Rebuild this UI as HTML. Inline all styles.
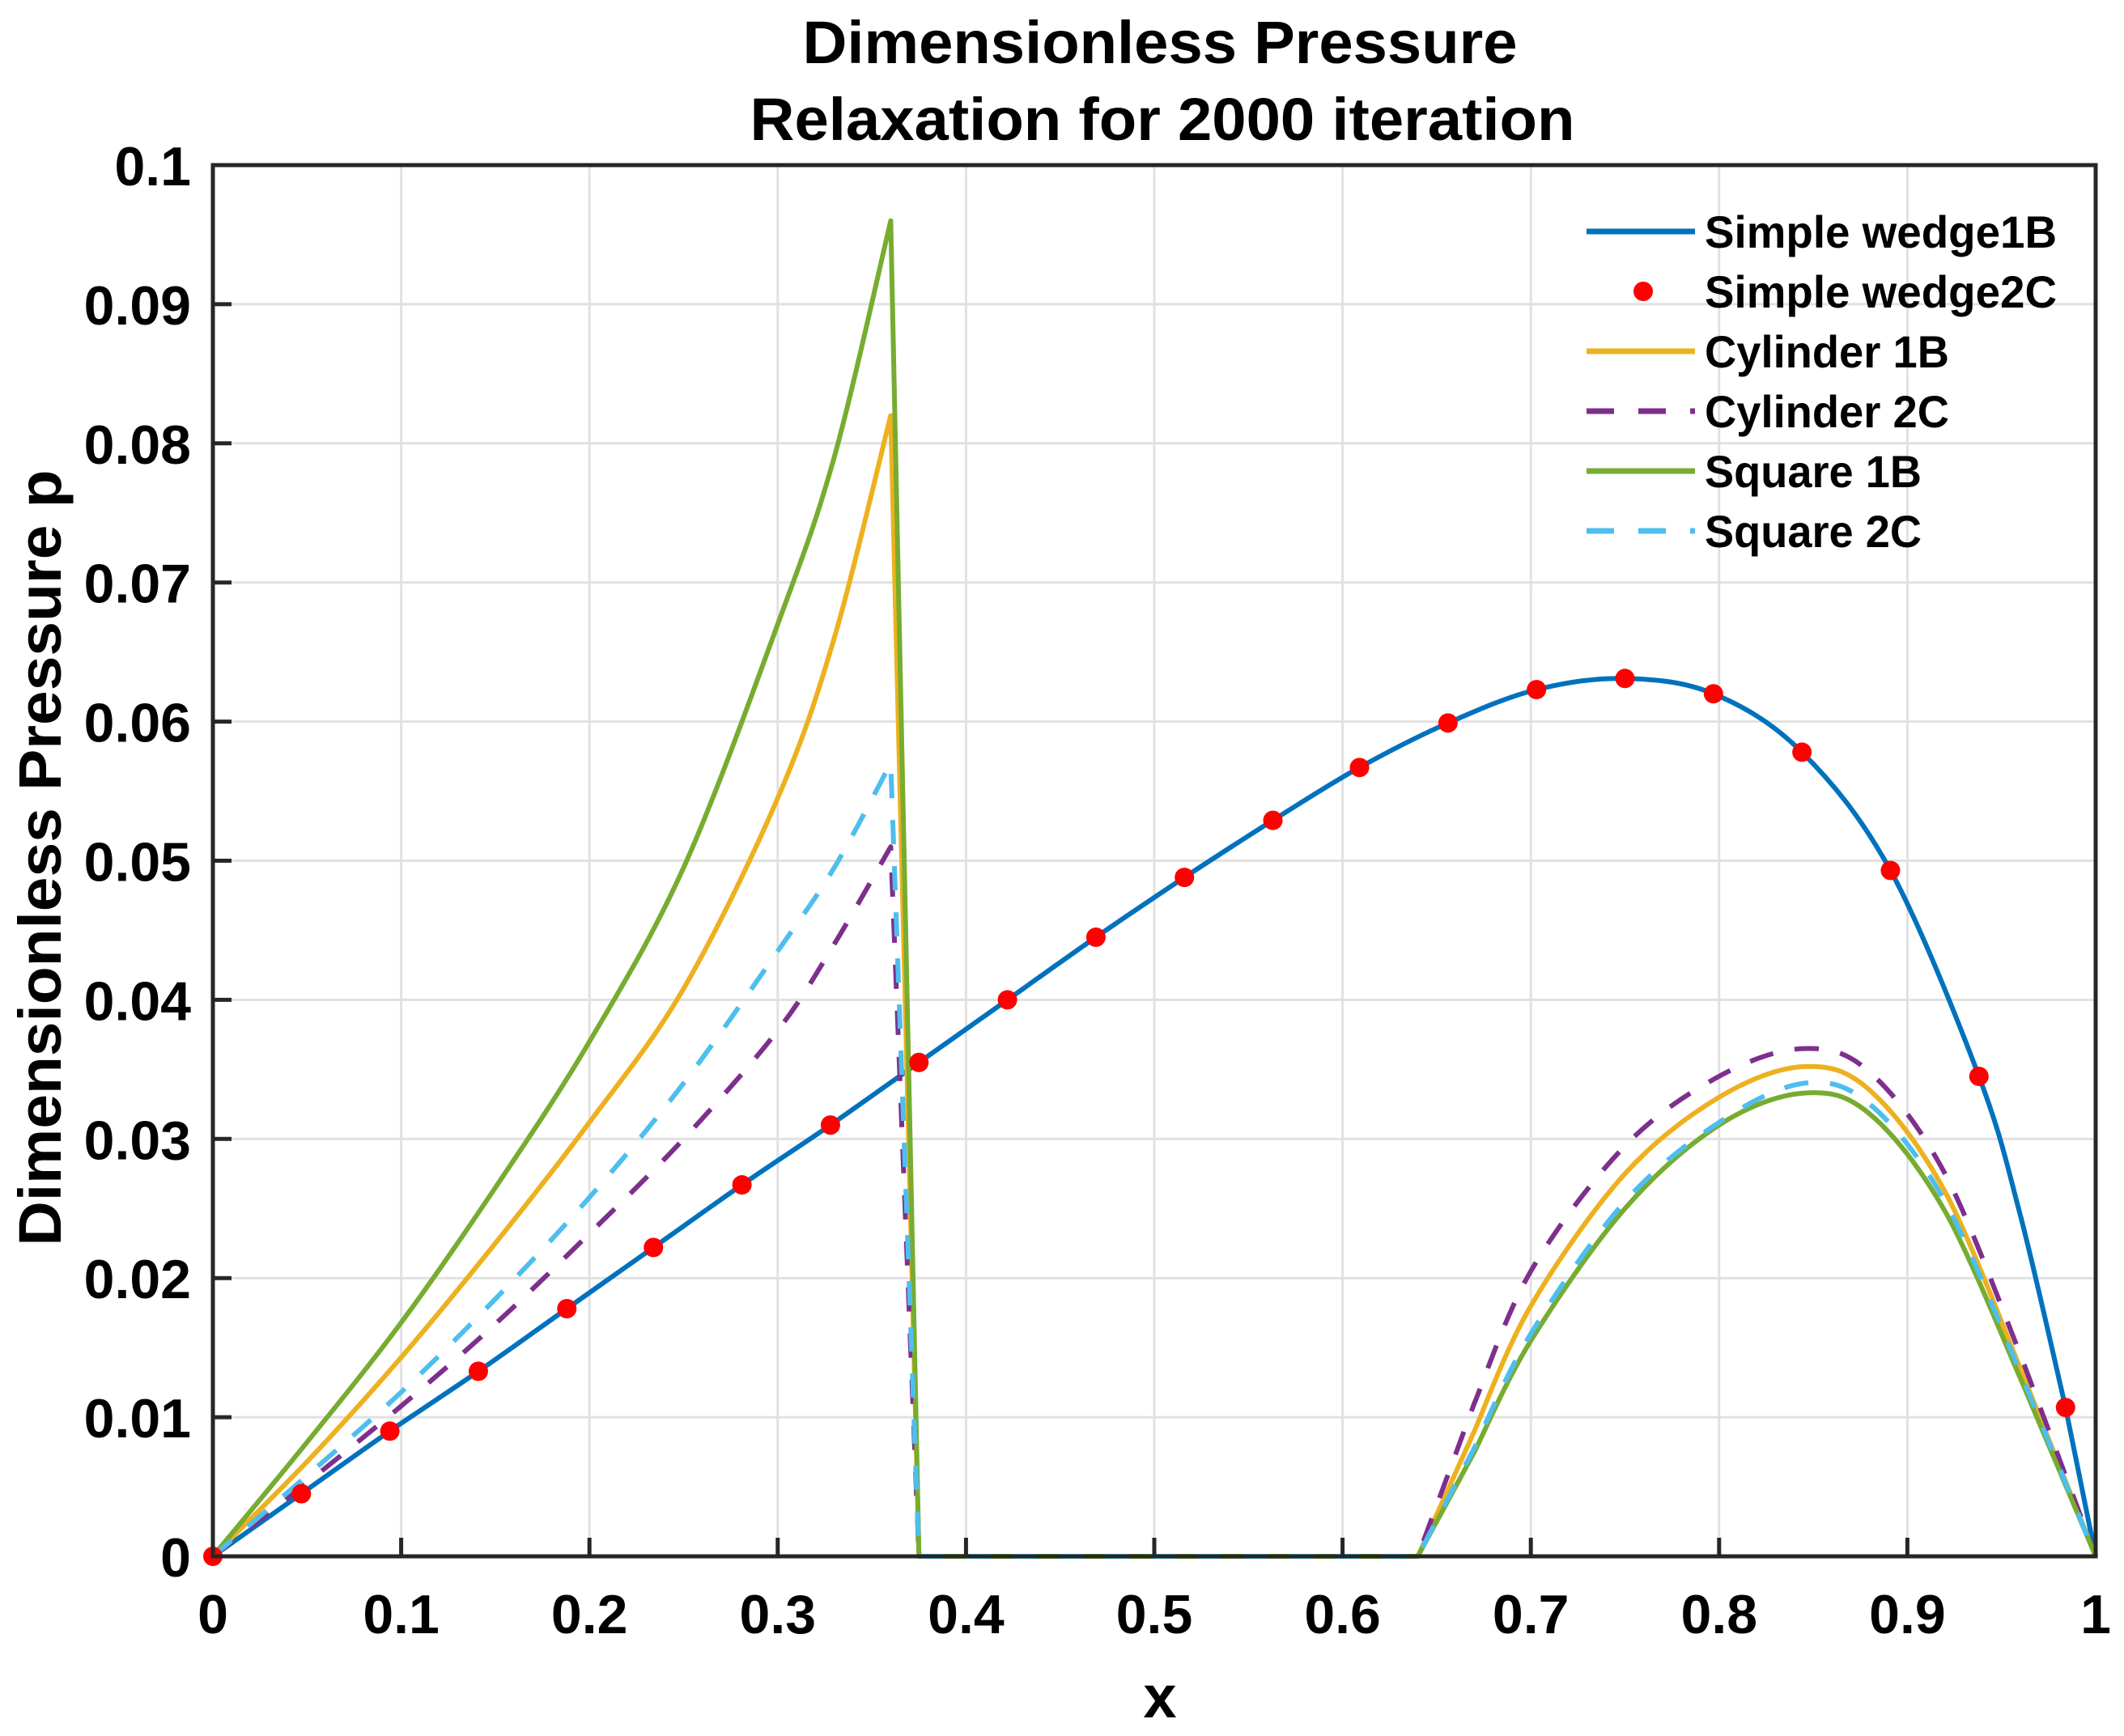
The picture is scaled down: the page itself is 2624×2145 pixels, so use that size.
<!DOCTYPE html>
<html><head><meta charset="utf-8"><style>html,body{margin:0;padding:0;background:#fff}svg{display:block}text{font-family:"Liberation Sans",Arial,sans-serif;font-weight:bold;fill:#000}</style></head>
<body>
<svg id="chart" width="2624" height="2145" viewBox="0 0 2624 2145" xmlns="http://www.w3.org/2000/svg">
<rect width="2624" height="2145" fill="#fff"/>
<g id="grid"></g>
<g id="series"></g>
<rect x="263" y="204" width="2326" height="1719" fill="none" stroke="#262626" stroke-width="5"/>
<g id="ticks"></g>
<text x="1433" y="78" text-anchor="middle" font-size="74" textLength="883" lengthAdjust="spacingAndGlyphs">Dimensionless Pressure</text>
<text x="1436" y="173" text-anchor="middle" font-size="74" textLength="1019" lengthAdjust="spacingAndGlyphs">Relaxation for 2000 iteration</text>
<text x="1433" y="2122" text-anchor="middle" font-size="74">x</text>
<text transform="translate(75,1060) rotate(-90)" text-anchor="middle" font-size="74" textLength="959" lengthAdjust="spacingAndGlyphs">Dimensionless Pressure p</text>
<g id="legend"></g>
</svg>
<script>
const xTicks=[0,0.1,0.2,0.3,0.4,0.5,0.6,0.7,0.8,0.9,1];
const xTickLabels=["0","0.1","0.2","0.3","0.4","0.5","0.6","0.7","0.8","0.9","1"];
const yTicks=[0,0.01,0.02,0.03,0.04,0.05,0.06,0.07,0.08,0.09,0.1];
const yTickLabels=["0","0.01","0.02","0.03","0.04","0.05","0.06","0.07","0.08","0.09","0.1"];

const wedgeX=[0,0.047,0.094,0.141,0.188,0.234,0.281,0.328,0.375,0.422,0.469,0.516,0.563,0.609,0.656,0.703,0.75,0.797,0.844,0.891,0.938,0.96,0.984,1];
const wedgeY=[0,0.0045,0.009,0.0133,0.0178,0.0222,0.0267,0.031,0.0355,0.040,0.0445,0.0488,0.0529,0.0567,0.0599,0.0623,0.0631,0.062,0.0578,0.0493,0.0345,0.0245,0.0107,0];
const dotX=[0,0.047,0.094,0.141,0.188,0.234,0.281,0.328,0.375,0.422,0.469,0.516,0.563,0.609,0.656,0.703,0.75,0.797,0.844,0.891,0.938,0.984];
const dotY=[0,0.0045,0.009,0.0133,0.0178,0.0222,0.0267,0.031,0.0355,0.040,0.0445,0.0488,0.0529,0.0567,0.0599,0.0623,0.0631,0.062,0.0578,0.0493,0.0345,0.0107];

const humpX=[0,0.05,0.1,0.15,0.2,0.25,0.3,0.33,0.36,0.375,0.5,0.64,0.67,0.7,0.75,0.8,0.845,0.88,0.92,0.96,1];
const cyl1Y=[0,0.0068,0.0143,0.0225,0.0312,0.0408,0.0545,0.066,0.082,0,0,0,0.009,0.018,0.0275,0.033,0.0352,0.0335,0.0262,0.0135,0];
const cyl2Y=[0,0.0053,0.0108,0.0167,0.0232,0.030,0.0378,0.0440,0.051,0,0,0,0.011,0.0205,0.0295,0.0345,0.0365,0.0348,0.0275,0.0145,0];
const sq1Y=[0,0.0082,0.0168,0.0265,0.037,0.0495,0.067,0.079,0.096,0,0,0,0.0075,0.0155,0.025,0.031,0.0333,0.0318,0.0248,0.0128,0];
const sq2Y=[0,0.0058,0.0118,0.0185,0.0258,0.034,0.0435,0.0495,0.057,0,0,0,0.0078,0.016,0.0255,0.0312,0.034,0.0325,0.0255,0.0132,0];

const X0=263,X1=2589,Y0=1923,Y1=204;
const sx=v=>X0+(X1-X0)*v;
const sy=v=>Y0-(Y0-Y1)*v/0.1;
const NS="http://www.w3.org/2000/svg";
function mk(tag,parent,attrs){const e=document.createElementNS(NS,tag);for(const k in attrs)e.setAttribute(k,attrs[k]);parent.appendChild(e);return e;}
const grid=document.getElementById('grid'),ticks=document.getElementById('ticks'),series=document.getElementById('series'),legend=document.getElementById('legend');

xTicks.forEach((v,i)=>{
  const g=mk('line',grid,{x1:sx(v),x2:sx(v),y1:Y1,y2:Y0,stroke:'#e1e1e1','stroke-width':3});
  
  
  const t=mk('line',ticks,{x1:sx(v),x2:sx(v),y1:Y0,y2:Y0-23,stroke:'#262626','stroke-width':5});
  
  
  const l=mk('text',ticks,{x:sx(v),y:2018,'text-anchor':'middle','font-size':68,fill:'#262626'});
  l.textContent=xTickLabels[i];
  
  
});
yTicks.forEach((v,i)=>{
  const g=mk('line',grid,{x1:X0,x2:X1,y1:sy(v),y2:sy(v),stroke:'#e1e1e1','stroke-width':3});
  
  
  const t=mk('line',ticks,{x1:X0,x2:X0+23,y1:sy(v),y2:sy(v),stroke:'#262626','stroke-width':5});
  
  
  const l=mk('text',ticks,{x:236,y:sy(v)+25,'text-anchor':'end','font-size':68,fill:'#262626'});
  l.textContent=yTickLabels[i];
  
  
});

function pathFor(xs,ys){
  const P=xs.map((x,i)=>[sx(x),sy(ys[i])]);
  const segs=[];let cur=[P[0]];
  for(let i=1;i<P.length;i++){
    const kink=(ys[i]===0&&ys[i-1]!==0)||(ys[i-1]===0&&ys[i]!==0&&i>1)||(ys[i]===0&&ys[i-1]===0);
    if(kink){segs.push(cur);cur=[P[i-1],P[i]];segs.push(cur);cur=[P[i]];}
    else cur.push(P[i]);
  }
  segs.push(cur);
  let d='M'+P[0][0].toFixed(1)+','+P[0][1].toFixed(1);
  segs.forEach(s=>{
    if(s.length<2)return;
    for(let i=0;i<s.length-1;i++){
      const p0=s[i-1]||s[i],p1=s[i],p2=s[i+1],p3=s[i+2]||s[i+1];
      const c1=[p1[0]+(p2[0]-p0[0])/6,p1[1]+(p2[1]-p0[1])/6];
      const c2=[p2[0]-(p3[0]-p1[0])/6,p2[1]-(p3[1]-p1[1])/6];
      d+=' C'+c1[0].toFixed(1)+','+c1[1].toFixed(1)+' '+c2[0].toFixed(1)+','+c2[1].toFixed(1)+' '+p2[0].toFixed(1)+','+p2[1].toFixed(1);
    }
  });
  return d;
}
function line(xs,ys,color,dash,name){
  const p=mk('path',series,{d:pathFor(xs,ys),fill:'none',stroke:color,'stroke-width':6,'stroke-linejoin':'round'});
  if(dash)p.setAttribute('stroke-dasharray',dash);
  
  
}
line(wedgeX,wedgeY,'#0072BD',null,'simple-wedge-1b-line');
line(humpX,cyl1Y,'#EDB120',null,'cylinder-1b-line');
line(humpX,cyl2Y,'#7E2F8E','30 27','cylinder-2c-line');
line(humpX,sq1Y,'#77AC30',null,'square-1b-line');
line(humpX,sq2Y,'#4DBEEE','30 27','square-2c-line');
dotX.forEach((x,i)=>{
  const c=mk('circle',series,{cx:sx(x),cy:sy(dotY[i]),r:12,fill:'#FF0000'});
  
  
});

const legNames=["Simple wedge1B","Simple wedge2C","Cylinder 1B","Cylinder 2C","Square 1B","Square 2C"];
const legColors=['#0072BD','#FF0000','#EDB120','#7E2F8E','#77AC30','#4DBEEE'];
const legWidths=[435,435,302,302,268,268];
legNames.forEach((n,i)=>{
  const y=286+i*74;
  if(i===1){
    const c=mk('circle',legend,{cx:2030,cy:y,r:12,fill:legColors[i]});
    
    
  }else{
    const l=mk('line',legend,{x1:1960,x2:2094,y1:y,y2:y,stroke:legColors[i],'stroke-width':7});
    if(i===3||i===5)l.setAttribute('stroke-dasharray','34 30');
    
    
  }
  const t=mk('text',legend,{x:2106,y:y+20,'font-size':56,textLength:legWidths[i],lengthAdjust:'spacingAndGlyphs'});
  t.textContent=n;
  
  
});
</script>
</body></html>
